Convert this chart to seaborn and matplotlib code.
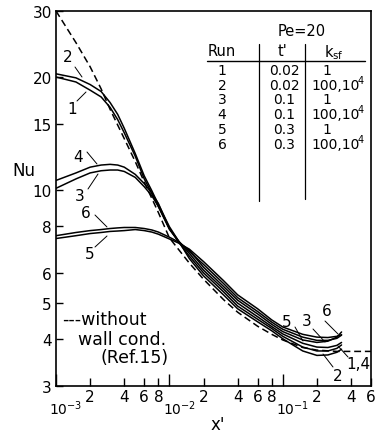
import matplotlib
matplotlib.use("Agg")
import matplotlib.pyplot as plt
from matplotlib.lines import Line2D
from matplotlib.ticker import FixedLocator, FixedFormatter, NullLocator
from matplotlib.transforms import ScaledTranslation
import pandas as pd
import seaborn as sns

# Axial positions x' at which the Nusselt numbers were taken
x_grid = [1e-3, 1.5e-3, 2e-3, 2.5e-3, 3e-3, 3.5e-3, 4e-3, 5e-3, 6e-3, 7e-3, 8e-3,
          1e-2, 1.2e-2, 1.5e-2, 2e-2, 3e-2, 4e-2, 6e-2, 8e-2, 0.1, 0.15, 0.2,
          0.25, 0.3, 0.33]

# Nu(x') for the six runs (Pe = 20)
nu_run1 = [20.0, 19.4, 18.45, 17.7, 16.6, 15.4, 14.2, 12.3, 10.7, 9.80, 9.03,
           7.89, 7.28, 6.66, 6.01, 5.35, 4.90, 4.52, 4.27, 4.07, 3.81, 3.72,
           3.72, 3.78, 3.86]
nu_run2 = [20.4, 19.9, 19.1, 18.3, 17.1, 15.9, 14.6, 12.5, 10.9, 9.95, 9.14,
           7.98, 7.32, 6.56, 5.90, 5.25, 4.82, 4.45, 4.21, 4.01, 3.72, 3.62,
           3.63, 3.69, 3.76]
nu_run3 = [10.1, 10.7, 11.1, 11.25, 11.3, 11.3, 11.2, 10.8, 10.2, 9.65, 9.03,
           7.85, 7.30, 6.85, 6.33, 5.63, 5.16, 4.74, 4.44, 4.25, 4.05, 3.97,
           3.97, 4.02, 4.10]
nu_run4 = [10.6, 11.1, 11.5, 11.65, 11.7, 11.65, 11.5, 11.0, 10.4, 9.80, 9.20,
           7.90, 7.32, 6.77, 6.11, 5.44, 4.99, 4.59, 4.32, 4.13, 3.90, 3.81,
           3.80, 3.85, 3.92]
nu_run5 = [7.42, 7.55, 7.65, 7.70, 7.75, 7.77, 7.79, 7.84, 7.79, 7.72, 7.62,
           7.40, 7.22, 6.95, 6.44, 5.73, 5.25, 4.82, 4.50, 4.31, 4.12, 4.05,
           4.04, 4.07, 4.11]
nu_run6 = [7.55, 7.70, 7.79, 7.84, 7.89, 7.92, 7.94, 7.94, 7.89, 7.82, 7.72,
           7.48, 7.27, 6.90, 6.22, 5.53, 5.08, 4.67, 4.38, 4.19, 3.98, 3.92,
           3.95, 4.05, 4.18]

# Solution without wall conduction (Ref. 15)
x_ref = [1e-3, 1.5e-3, 2e-3, 2.5e-3, 3e-3, 4e-3, 5e-3, 6e-3, 8e-3, 1e-2, 1.5e-2,
         2e-2, 3e-2, 4e-2, 6e-2, 8e-2, 0.1, 0.15, 0.2, 0.3, 0.6]
nu_ref = [30.0, 24.7, 21.3, 18.6, 16.4, 13.7, 11.9, 10.5, 8.70, 7.45, 6.38,
          5.78, 5.10, 4.72, 4.33, 4.12, 3.98, 3.80, 3.74, 3.71, 3.71]

# Parameter table (k_sf entries: mantissa text, exponent text)
runs = ["1", "2", "3", "4", "5", "6"]
t_vals = ["0.02", "0.02", "0.1", "0.1", "0.3", "0.3"]
ksf_vals = [("1", ""), ("100,10", "4"), ("1", ""), ("100,10", "4"),
            ("1", ""), ("100,10", "4")]

# Axis ticks
y_ticks = [3, 4, 5, 6, 8, 10, 15, 20, 30]
x_major = [1e-3, 1e-2, 1e-1]
x_major_labels = [r"$10^{-3}$", r"$10^{-2}$", r"$10^{-1}$"]
x_minor = [2e-3, 4e-3, 6e-3, 8e-3, 2e-2, 4e-2, 6e-2, 8e-2, 0.2, 0.4, 0.6]
x_minor_labels = ["2", "4", "6", "8", "2", "4", "6", "8", "2", "4", "6"]

sns.set_theme(style="ticks")
plt.rcParams["font.family"] = ["DejaVu Sans"]
plt.rcParams["mathtext.default"] = "regular"

W, H = 375, 435
fig = plt.figure(figsize=(W / 100, H / 100), dpi=100)
fig.patch.set_facecolor("white")
ax = fig.add_axes([56 / W, 1 - 387 / H, 315 / W, 375 / H])
ax.set_facecolor("white")

frames = []
for name, vals in zip(runs, [nu_run1, nu_run2, nu_run3, nu_run4, nu_run5, nu_run6]):
    frames.append(pd.DataFrame({"x": x_grid, "Nu": vals, "run": name}))
df = pd.concat(frames, ignore_index=True)

sns.lineplot(data=df, x="x", y="Nu", units="run", estimator=None, sort=False,
             color="black", lw=1.1, ax=ax)
sns.lineplot(x=x_ref, y=nu_ref, sort=False, color="black", lw=1.1,
             linestyle=(0, (4.5, 2.5)), ax=ax)

ax.set_xscale("log")
ax.set_yscale("log")
ax.set_xlim(1e-3, 0.6)
ax.set_ylim(3, 30)

ax.yaxis.set_major_locator(FixedLocator(y_ticks))
ax.yaxis.set_major_formatter(FixedFormatter([str(v) for v in y_ticks]))
ax.yaxis.set_minor_locator(NullLocator())
ax.xaxis.set_major_locator(FixedLocator(x_major))
ax.xaxis.set_major_formatter(FixedFormatter(x_major_labels))
ax.xaxis.set_minor_locator(FixedLocator(x_minor))
ax.xaxis.set_minor_formatter(FixedFormatter(x_minor_labels))

ax.tick_params(axis="y", which="major", direction="in", length=5, width=1,
               pad=3, labelsize=11, colors="black")
ax.tick_params(axis="x", which="major", direction="in", length=9, width=1,
               pad=9, labelsize=10, colors="black")
ax.tick_params(axis="x", which="minor", direction="in", length=6, width=1,
               pad=2, labelsize=11, colors="black")
shift = ScaledTranslation(10 / 100, 0, fig.dpi_scale_trans)
for lab in ax.xaxis.get_majorticklabels():
    lab.set_transform(lab.get_transform() + shift)
for s in ax.spines.values():
    s.set_visible(True)
    s.set_color("black")
    s.set_linewidth(1.2)

ax.set_xlabel("x'", fontsize=12, color="black")
ax.set_ylabel("Nu", fontsize=12, rotation=0, color="black", ha="center", va="center")
ax.xaxis.set_label_coords((218 - 56) / 315, -(416 - 387) / 375)
ax.yaxis.set_label_coords((24 - 56) / 315, (387 - 171) / 375)


def fp(x, y):
    return x / W, 1 - y / H


def ftext(x, y, s, size=11, ha="center"):
    fig.text(*fp(x, y), s, fontsize=size, ha=ha, va="center", color="black")


def fline(x0, y0, x1, y1, lw=0.8):
    (a, b), (c, d) = fp(x0, y0), fp(x1, y1)
    fig.add_artist(Line2D([a, c], [b, d], color="black", lw=lw))


# Parameter table in the upper right
ftext(302, 31, "Pe=20", 10.5)
ftext(222, 52, "Run", 10.5)
ftext(282, 52, "t'", 10.5)
ftext(334, 53, r"k$_{sf}$", 10.5)
fline(207, 62, 365, 62, 1.0)
fline(259, 45, 259, 202, 0.9)
fline(305, 45, 305, 200, 0.9)
row_y = [71, 86, 100, 115, 130, 145]
for yy, r, t, (k, kexp) in zip(row_y, runs, t_vals, ksf_vals):
    ftext(222, yy, r, 10)
    ftext(284, yy, t, 10)
    if kexp:
        ftext(311, yy, k, 10, ha="left")
        ftext(358, yy - 5, kexp, 7, ha="left")
    else:
        ftext(327, yy, k, 10)

# Curve labels with leader lines
labels = [
    ("2", 68, 58, (75, 68, 82, 78)),
    ("1", 72, 110, (77, 102, 86, 93)),
    ("4", 78, 158, (87, 153, 97, 165)),
    ("3", 80, 197, (88, 190, 98, 175)),
    ("6", 86, 214, (95, 216, 107, 228)),
    ("5", 90, 255, (95, 248, 107, 237)),
    ("5", 287, 323, (295, 328, 303, 342)),
    ("3", 307, 322, (313, 330, 325, 343)),
    ("6", 327, 312, (325, 322, 338, 335)),
    ("1,4", 358, 365, (348, 358, 338, 347)),
    ("2", 338, 377, (333, 368, 323, 355)),
]
for s, tx, ty, (a, b, c, d) in labels:
    ftext(tx, ty, s, 11)
    fline(a, b, c, d, 0.7)

# Key for the dashed curve
ftext(62, 320, "---without", 12.5, ha="left")
ftext(78, 340, "wall cond.", 12.5, ha="left")
ftext(100, 358, "(Ref.15)", 12.5, ha="left")

fig.savefig("out.png", dpi=100, facecolor="white")
